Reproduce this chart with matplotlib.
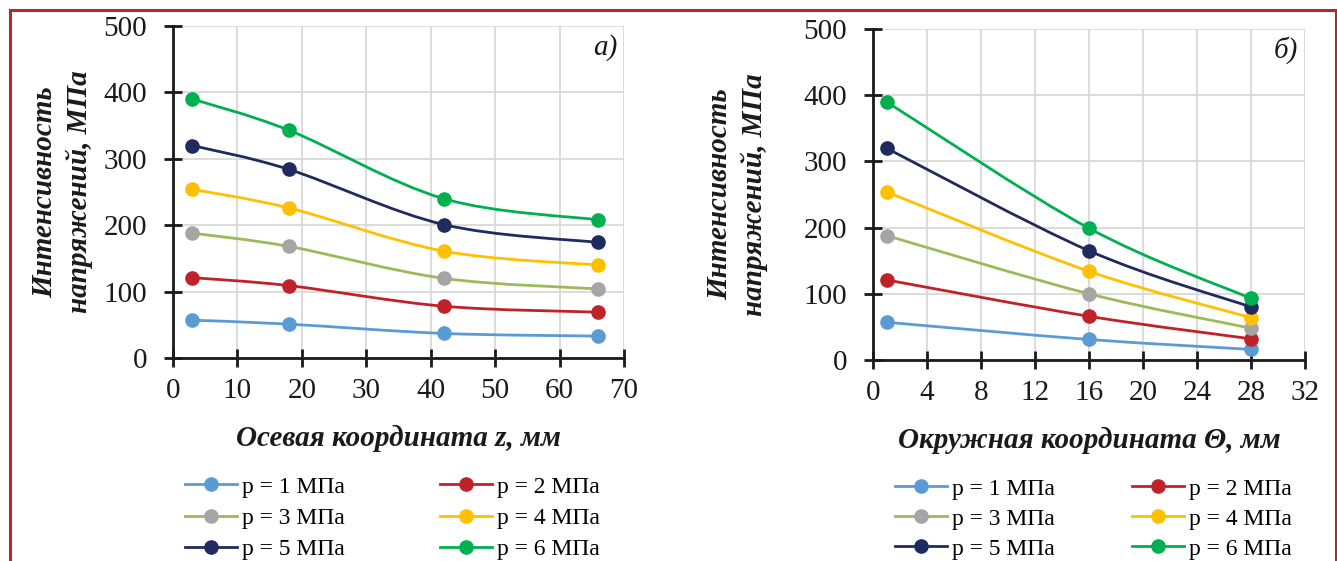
import matplotlib
matplotlib.use("Agg")
import matplotlib.pyplot as plt
import numpy as np
from matplotlib.path import Path
from matplotlib.patches import PathPatch
from matplotlib.lines import Line2D

# ---------------- data ----------------
labels = ["p = 1 МПа", "p = 2 МПа", "p = 3 МПа", "p = 4 МПа", "p = 5 МПа", "p = 6 МПа"]

z_axial = [3, 18, 42, 66]
a_p1 = [57, 51, 37, 33]
a_p2 = [121, 109, 78, 69]
a_p3 = [188, 168, 120, 104]
a_p4 = [254, 226, 161, 140]
a_p5 = [320, 284, 201, 174]
a_p6 = [390, 343, 240, 208]

theta = [1, 16, 28]
b_p1 = [57, 31, 16]
b_p2 = [121, 66, 32]
b_p3 = [188, 100, 48]
b_p4 = [254, 134, 64]
b_p5 = [320, 165, 80]
b_p6 = [390, 199, 93]

a_xticks = [0, 10, 20, 30, 40, 50, 60, 70]
b_xticks = [0, 4, 8, 12, 16, 20, 24, 28, 32]
yticks = [0, 100, 200, 300, 400, 500]

# ---------------- style ----------------
line_colors = ["#5b9bd5", "#c0222a", "#9bbb59", "#ffc000", "#1f2a5e", "#00b050"]
marker_colors = ["#5b9bd5", "#c0222a", "#a5a5a5", "#ffc000", "#1f2a5e", "#00b050"]
SERIF = ["Liberation Serif", "DejaVu Serif"]
plt.rcParams["font.family"] = SERIF

W, H = 1337, 561
fig = plt.figure(figsize=(W / 100, H / 100), dpi=100)


def fx(px):
    return px / W


def fy(py):
    return 1 - py / H


def smooth_path(x, y):
    # Excel-style smoothed line drawn as cubic Bezier segments through the data points
    pts = np.column_stack([x, y]).astype(float)
    n = len(pts)
    verts = [pts[0]]
    codes = [Path.MOVETO]
    for i in range(n - 1):
        p0 = pts[i - 1] if i > 0 else pts[i]
        p1 = pts[i]
        p2 = pts[i + 1]
        p3 = pts[i + 2] if i + 2 < n else pts[i + 1]
        c1 = p1 + (p2 - p0) / 6.0
        c2 = p2 - (p3 - p1) / 6.0
        verts += [c1, c2, p2]
        codes += [Path.CURVE4] * 3
    return Path(verts, codes)


def make_panel(rect, xs, series, xlim, xticks, xlabel, tag, ylabelpad):
    ax = fig.add_axes(rect)
    ax.set_xlim(*xlim)
    ax.set_ylim(0, 500)
    ax.set_xticks(xticks)
    ax.set_yticks(yticks)
    ax.grid(True, color="#d9d9d9", linewidth=1.3)
    ax.set_axisbelow(True)
    for s in ["top", "right"]:
        ax.spines[s].set_visible(False)
    for s in ["left", "bottom"]:
        ax.spines[s].set_color("#1a1a1a")
        ax.spines[s].set_linewidth(2.0)
        ax.spines[s].set_zorder(5)
    ax.tick_params(direction="inout", length=13, width=2, color="#1a1a1a",
                   labelsize=21, labelcolor="#1a1a1a")
    ax.tick_params(axis="y", pad=12)
    ax.tick_params(axis="x", pad=8)
    for ys, lc, mc in zip(series, line_colors, marker_colors):
        ax.add_patch(PathPatch(smooth_path(xs, ys), facecolor="none", edgecolor=lc,
                               linewidth=2.0, zorder=3, clip_on=False))
        ax.plot(xs, ys, linestyle="none", marker="o", markersize=9.5,
                markerfacecolor=mc, markeredgecolor=mc, zorder=4, clip_on=False)
    ax.set_xlabel(xlabel, fontsize=21, fontweight="bold", fontstyle="italic",
                  labelpad=15, color="#1a1a1a")
    ax.set_ylabel("Интенсивность\nнапряжений, МПа", fontsize=21, fontweight="bold",
                  fontstyle="italic", labelpad=ylabelpad, color="#1a1a1a", linespacing=1.3)
    ax.text(0.985, 0.935, tag, transform=ax.transAxes, ha="right", va="center",
            fontsize=21, fontstyle="italic", color="#1a1a1a")
    return ax


ax1 = make_panel([fx(173), fy(358), fx(624) - fx(173), fy(26) - fy(358)],
                 z_axial, [a_p1, a_p2, a_p3, a_p4, a_p5, a_p6], (0, 70), a_xticks,
                 "Осевая координата z, мм", "а)", 8)
ax2 = make_panel([fx(873), fy(360), fx(1305) - fx(873), fy(29) - fy(360)],
                 theta, [b_p1, b_p2, b_p3, b_p4, b_p5, b_p6], (0, 32), b_xticks,
                 "Окружная координата Θ, мм", "б)", 26)

handles = [Line2D([], [], color=lc, linewidth=2.0, marker="o", markersize=9.5,
                  markerfacecolor=mc, markeredgecolor=mc)
           for lc, mc in zip(line_colors, marker_colors)]
# legend is filled row by row: (1, 2), (3, 4), (5, 6)
order = [0, 2, 4, 1, 3, 5]

for x0, y0, cs, ls in [(185, 476, 4.05, 0.42), (895, 478, 3.3, 0.36)]:
    fig.legend([handles[i] for i in order], [labels[i] for i in order], ncol=2,
               loc="upper left", bbox_to_anchor=(fx(x0), fy(y0)), frameon=False,
               fontsize=17, handlelength=2.2, handletextpad=0.2, columnspacing=cs,
               labelspacing=ls, borderpad=0, borderaxespad=0)

# red frame
frame_color = "#b22a2e"
fig.add_artist(Line2D([fx(9.5), fx(9.5)], [fy(10), 0], color=frame_color, linewidth=2.2))
fig.add_artist(Line2D([fx(9.5), fx(1335.5)], [fy(10), fy(10)], color=frame_color, linewidth=2.2))
fig.add_artist(Line2D([fx(1335.5), fx(1335.5)], [fy(10), 0], color=frame_color, linewidth=2.2))

fig.savefig("out.png", dpi=100)
